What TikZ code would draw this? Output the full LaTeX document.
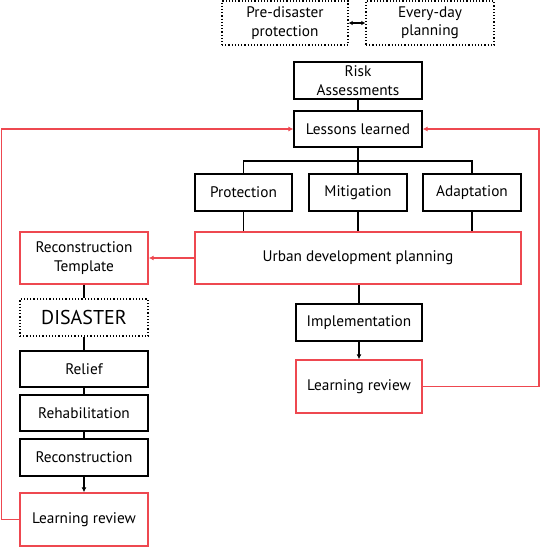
\documentclass[tikz,border=0pt]{standalone}
\usepackage{fontspec}
\setmainfont{PT Sans}
\usetikzlibrary{arrows.meta}
\definecolor{rd}{RGB}{238,72,80}
\begin{document}
\begin{tikzpicture}[x=1pt,y=-1pt,
  box/.style={draw=black,line width=1.2pt,inner sep=0pt,align=center,font=\fontsize{15.3}{18.5}\selectfont},
  rbox/.style={box,draw=rd,line width=1.4pt},
  dbox/.style={box,dotted,line width=1.2pt},
  conn/.style={line width=1.2pt},
  rconn/.style={line width=1.4pt,draw=rd},
  tip/.style={-{Latex[length=5pt,width=5pt]}}]
\useasboundingbox (0,0) rectangle (540,547);
\fill[white] (0,0) rectangle (540,547);
\node[dbox,minimum width=126pt,minimum height=44pt] (pre) at (285,23) {Pre-disaster\\protection};
\node[dbox,minimum width=128pt,minimum height=44pt] (every) at (430,23) {Every-day\\planning};
\node[box,minimum width=128pt,minimum height=37pt] (risk) at (358,80.5) {Risk\\Assessments};
\node[box,minimum width=128pt,minimum height=36pt] (lessons) at (358,129) {Lessons learned};
\node[box,minimum width=97pt,minimum height=37pt] (prot) at (243.5,192.5) {Protection};
\node[box,minimum width=98pt,minimum height=37pt] (miti) at (358,192.5) {Mitigation};
\node[box,minimum width=98pt,minimum height=37pt] (adap) at (472,192.5) {Adaptation};
\node[rbox,minimum width=326pt,minimum height=52pt] (urban) at (358,258) {Urban development planning};
\node[rbox,minimum width=128pt,minimum height=52pt] (templ) at (84,258) {Reconstruction\\Template};
\node[dbox,minimum width=128pt,minimum height=37pt,font=\fontsize{20}{24}\selectfont] (dis) at (84,317.5) {DISASTER};
\node[box,minimum width=128pt,minimum height=36pt] (relief) at (84,369) {Relief};
\node[box,minimum width=128pt,minimum height=36pt] (rehab) at (84,413) {Rehabilitation};
\node[box,minimum width=128pt,minimum height=37pt] (recon) at (84,457.5) {Reconstruction};
\node[rbox,minimum width=128pt,minimum height=53pt] (lrl) at (84,519.5) {Learning review};
\node[box,minimum width=126pt,minimum height=37pt] (impl) at (359,322.5) {Implementation};
\node[rbox,minimum width=126pt,minimum height=53pt] (lrr) at (359,386.5) {Learning review};
\coordinate (bus) at (358,161);
\coordinate (lc) at (1.5,129);
\coordinate (rc) at (539,129);
% black connectors
\draw[conn,{Latex[length=4pt,width=4.5pt]}-{Latex[length=4pt,width=4.5pt]}] (pre) -- (every);
\draw[conn] (risk) -- (lessons);
\draw[conn] (lessons) -- (bus);
\draw[conn] (prot.north) |- (bus) -| (adap.north);
\draw[conn] (bus) -- (miti.north);
\draw[conn] (prot.south) -- (prot.south |- urban.north);
\draw[conn] (miti.south) -- (miti.south |- urban.north);
\draw[conn] (adap.south) -- (adap.south |- urban.north);
\draw[conn] (urban.south -| impl.north) -- (impl.north);
\draw[conn,tip] (impl) -- (lrr);
\draw[conn] (templ) -- (dis);
\draw[conn] (dis) -- (relief);
\draw[conn] (relief) -- (rehab);
\draw[conn] (rehab) -- (recon);
\draw[conn,tip] (recon) -- (lrl);
% red connectors
\draw[rconn,tip] (urban) -- (templ);
\draw[rconn,tip] (lrl.west) -| (lc) -- (lessons.west);
\draw[rconn,tip] (lrr.east) -| (rc) -- (lessons.east);
\end{tikzpicture}
\end{document}
